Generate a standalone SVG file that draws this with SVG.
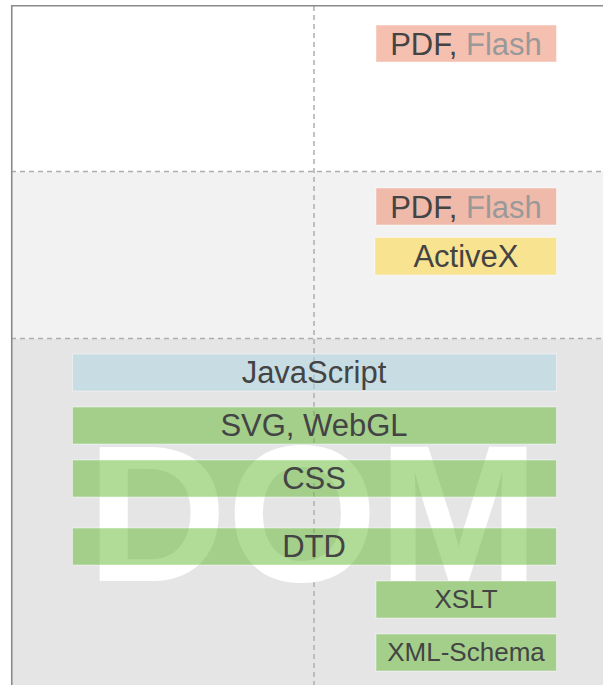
<svg xmlns="http://www.w3.org/2000/svg" width="603" height="685" viewBox="0 0 603 685">
<style>
.dash{stroke:#aeaeae;stroke-width:1.5;stroke-dasharray:5 4;fill:none}
.box{stroke:#ffffff;stroke-opacity:0.45;stroke-width:1;fill-opacity:0.5}
.red{fill:#eb8161}
.yel{fill:#fed430}
.blue{fill:#a9d5e1}
.green{fill:#61b931}
.t{font-family:"Liberation Sans",Arial,Helvetica,sans-serif;font-size:31px;fill:#444444;text-anchor:middle}
.s{font-size:26px}
.light{fill:#999999}
</style>
<g id="background">
<rect x="0" y="0" width="603" height="685" fill="#ffffff"/>
<rect x="11" y="171.5" width="592" height="167" fill="#f2f2f2"/>
<rect x="11" y="338.5" width="592" height="347" fill="#e5e5e5"/>
<path class="dash" d="M11 171.5H603M11 338.5H603M314 6V685"/>
<path d="M11.75 685V5.75H603" fill="none" stroke="#8a8a8a" stroke-width="1.6"/>
</g>
<text id="dom" x="313" y="581" font-family="'Liberation Sans',Arial,Helvetica,sans-serif" font-weight="bold" font-size="194" fill="#ffffff" text-anchor="middle">DOM</text>
<g id="connectors"/>
<g id="pdf-flash-1">
<rect class="box red" x="376" y="25" width="180.5" height="37"/>
<text class="t" x="466" y="54.5">PDF, <tspan class="light">Flash</tspan></text>
</g>
<g id="pdf-flash-2">
<rect class="box red" x="376" y="188" width="180.5" height="37"/>
<text class="t" x="466" y="217.5">PDF, <tspan class="light">Flash</tspan></text>
</g>
<g id="activex">
<rect class="box yel" x="375" y="237.5" width="181.5" height="37.5"/>
<text class="t" x="466" y="266.5">ActiveX</text>
</g>
<g id="javascript">
<rect class="box blue" x="72.5" y="354" width="484" height="37"/>
<text class="t" x="314" y="383.3">JavaScript</text>
</g>
<g id="svg-webgl">
<rect class="box green" x="72.5" y="407" width="484" height="37"/>
<text class="t" x="314" y="436.3">SVG, WebGL</text>
</g>
<g id="css">
<rect class="box green" x="72.5" y="460" width="484" height="37"/>
<text class="t" x="314" y="489.3">CSS</text>
</g>
<g id="dtd">
<rect class="box green" x="72.5" y="528" width="484" height="37"/>
<text class="t" x="314" y="557.3">DTD</text>
</g>
<g id="xslt">
<rect class="box green" x="376" y="581" width="180.5" height="37"/>
<text class="t s" x="466" y="607.7">XSLT</text>
</g>
<g id="xml-schema">
<rect class="box green" x="376" y="634" width="180.5" height="37"/>
<text class="t s" x="466" y="661">XML-Schema</text>
</g>
</svg>
